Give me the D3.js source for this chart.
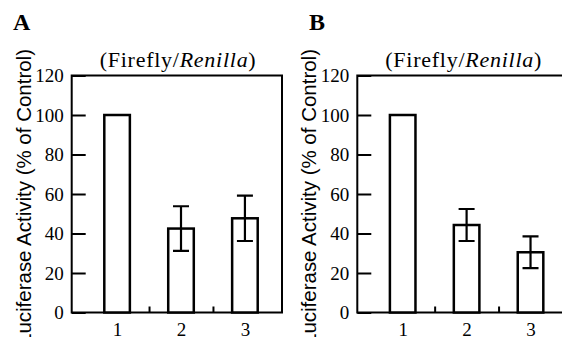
<!DOCTYPE html>
<html>
<head>
<meta charset="utf-8">
<script src="https://cdn.jsdelivr.net/npm/d3@7"></script>
<style>
  body { margin: 0; background: #fff; }
  svg { display: block; }
  .tick text { font-family: "Liberation Serif", "Times New Roman", serif; font-size: 19px; fill: #000; }
  .tick line { stroke: #000; stroke-width: 2px; }
</style>
</head>
<body>
<svg width="562" height="337"></svg>
<script>
// values
const categories = [1, 2, 3];
const meanA = [100, 42.5, 47.7];
const errA = [null, 11.3, 11.5];
const meanB = [100, 44.3, 30.5];
const errB = [null, 8.1, 8.0];
const yTicks = [0, 20, 40, 60, 80, 100, 120];
const titleText = "Firefly/";
const titleItalic = "Renilla";
const yLabel = "Luciferase Activity (% of Control)";

const svg = d3.select('svg');
const boxW = 210.3, boxH = 237;

let drawPanel = (left, top, letter, letterX, means, errs) => {
    const g = svg.append('g').attr('transform', 'translate(' + left + ',' + top + ')');
    const x = d3.scaleLinear().domain([0.29, 3.58]).range([0, boxW]);
    const y = d3.scaleLinear().domain([0, 120]).range([boxH, 0]);
    const data = categories.map((c, i) => ({cat: c, mean: means[i], err: errs[i]}));

    // box
    g.append('rect')
        .attr('x', 0).attr('y', 0)
        .attr('width', boxW).attr('height', boxH)
        .style('fill', 'none').style('stroke', '#000').style('stroke-width', 2);

    // y axis, ticks pointing inward
    g.append('g')
        .call(d3.axisLeft(y).tickValues(yTicks).tickSize(-14).tickPadding(8))
        .call(a => a.select('.domain').remove());

    // little ticks between bars on the bottom
    g.append('g')
        .attr('transform', 'translate(0,' + boxH + ')')
        .call(d3.axisBottom(x).tickValues([1.5, 2.5]).tickSize(-6).tickFormat(''))
        .call(a => a.select('.domain').remove());

    // category labels
    g.append('g')
        .attr('transform', 'translate(0,' + boxH + ')')
        .call(d3.axisBottom(x).tickValues(categories).tickSize(0).tickPadding(10).tickFormat(d3.format('d')))
        .call(a => a.select('.domain').remove());

    const bw = x(1.2) - x(0.8);
    g.selectAll('.bar')
        .data(data)
        .enter().append('rect')
        .attr('class', 'bar')
        .attr('x', d => x(d.cat) - bw / 2)
        .attr('y', d => y(d.mean))
        .attr('width', bw)
        .attr('height', d => boxH - y(d.mean))
        .style('fill', '#fff')
        .style('stroke', '#000')
        .style('stroke-width', 2.5);

    const eb = data.filter(d => d.err != null);
    const cap = 8;
    g.selectAll('.err')
        .data(eb)
        .enter().append('path')
        .attr('class', 'err')
        .attr('d', d => {
            const cx = x(d.cat), t = y(d.mean + d.err), b = y(d.mean - d.err);
            return 'M' + cx + ',' + t + 'V' + b +
                'M' + (cx - cap) + ',' + t + 'H' + (cx + cap) +
                'M' + (cx - cap) + ',' + b + 'H' + (cx + cap);
        })
        .style('fill', 'none')
        .style('stroke', '#000')
        .style('stroke-width', 2.2);

    // title
    const t = g.append('text')
        .attr('x', 106).attr('y', -9)
        .attr('text-anchor', 'middle')
        .style('font-family', '"Liberation Serif", "Times New Roman", serif')
        .style('font-size', '22px')
        .attr('textLength', 156)
        .attr('lengthAdjust', 'spacing');
    t.append('tspan').text('(' + titleText);
    t.append('tspan').style('font-style', 'italic').text(titleItalic);
    t.append('tspan').text(')');

    // y label
    g.append('text')
        .attr('transform', 'translate(-41,' + (197 - top) + ') rotate(-90)')
        .attr('text-anchor', 'middle')
        .style('font-family', '"Liberation Sans Narrow", "Liberation Sans", Arial, sans-serif')
        .style('font-size', '20px')
        .attr('textLength', 296)
        .attr('lengthAdjust', 'spacingAndGlyphs')
        .text(yLabel);

    // panel letter
    svg.append('text')
        .attr('x', letterX).attr('y', 30)
        .style('font-family', '"Liberation Serif", "Times New Roman", serif')
        .style('font-weight', 'bold')
        .style('font-size', '24px')
        .text(letter);
}

drawPanel(71.7, 75.5, 'A', 13, meanA, errA);
drawPanel(357.3, 75.5, 'B', 309, meanB, errB);
</script>
</body>
</html>
